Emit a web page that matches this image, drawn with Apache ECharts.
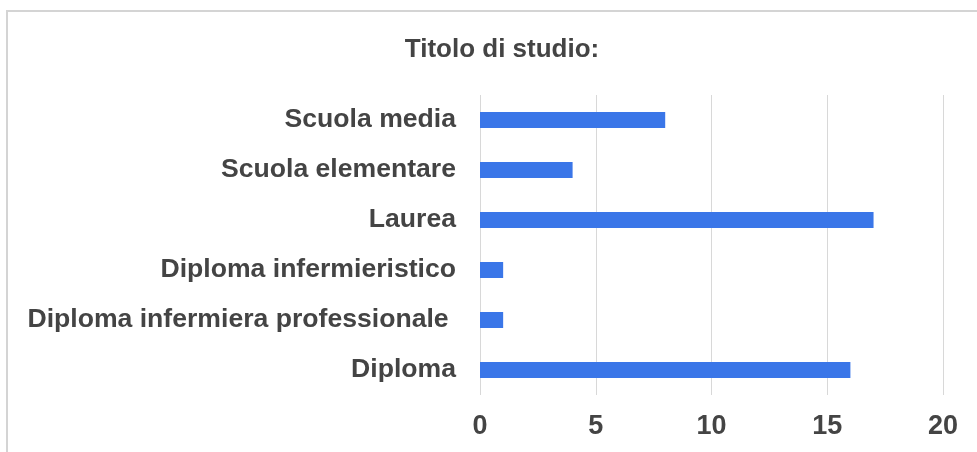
<!DOCTYPE html>
<html><head><meta charset="utf-8">
<script src="https://cdn.jsdelivr.net/npm/echarts@6/dist/echarts.min.js"></script>
<style>html,body{margin:0;padding:0;background:#fff}#c{width:977px;height:452px}</style>
</head><body><div id="c"></div>
<script>
const categories = ["Diploma","Diploma infermiera professionale ","Diploma infermieristico","Laurea","Scuola elementare","Scuola media"];
const values = [16,1,1,17,4,8];
const tickValues = [0,5,10,15,20];
const titleText = "Titolo di studio:";
const chart = echarts.init(document.getElementById('c'));
chart.setOption({
  animation:false,
  backgroundColor:'#fff',
  graphic:[{type:'rect',shape:{x:7,y:11,width:980,height:460},style:{fill:'none',stroke:'#d4d4d4',lineWidth:2},silent:true}],
  title:{text:titleText,left:497,top:32,textAlign:'center',textStyle:{fontFamily:'Liberation Sans',fontWeight:'bold',fontSize:26,color:'#444'}},
  grid:{left:480,right:34,top:95,bottom:57,containLabel:false},
  xAxis:{type:'value',min:tickValues[0],max:tickValues[tickValues.length-1],interval:5,
    axisLine:{show:false},axisTick:{show:false},
    splitLine:{show:true,lineStyle:{color:'#d8d8d8',width:1}},
    axisLabel:{margin:18,fontFamily:'Liberation Sans',fontWeight:'bold',fontSize:27,color:'#444'}},
  yAxis:{type:'category',data:categories,
    axisLine:{show:false},axisTick:{show:false},
    axisLabel:{margin:24,fontFamily:'Liberation Sans',fontWeight:'bold',fontSize:26.6,color:'#444'}},
  series:[{type:'bar',data:values,barWidth:16,itemStyle:{color:'#3a76e8'}}]
});
</script></body></html>
